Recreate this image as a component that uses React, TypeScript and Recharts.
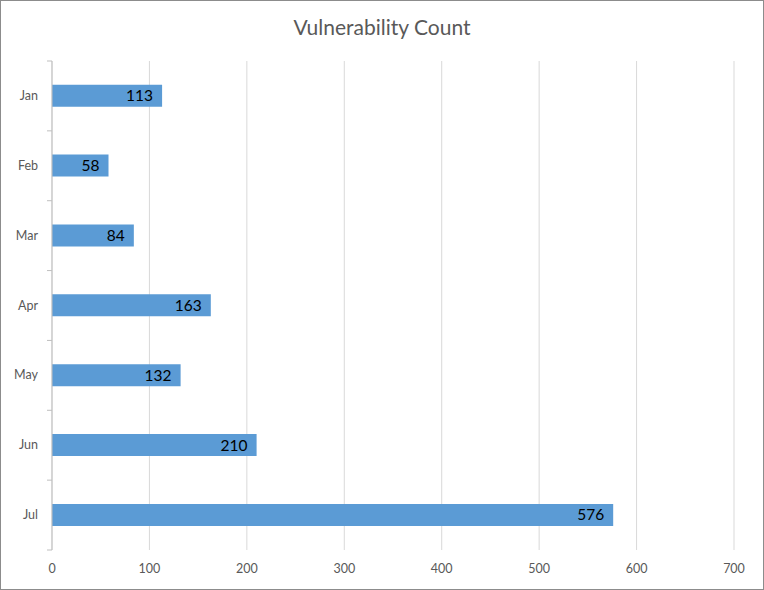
import React from 'react';
import { BarChart, Bar, XAxis, YAxis, CartesianGrid, LabelList } from 'recharts';

const months = ['Jan', 'Feb', 'Mar', 'Apr', 'May', 'Jun', 'Jul'];
const counts = [113, 58, 84, 163, 132, 210, 576];
const xTicks = [0, 100, 200, 300, 400, 500, 600, 700];

const data = months.map((month, i) => ({ month, count: counts[i] }));

const FONT = 'Lato, "Open Sans", sans-serif';
const PLOT_TOP = 61;
const PLOT_BOTTOM = 40;
const BAND = (590 - PLOT_TOP - PLOT_BOTTOM) / months.length;

// month label plus a tick mark on the boundary between categories
const MonthTick = (props: any) => {
  const { x, y, payload, index } = props;
  const last = index === months.length - 1;
  const ax = x + 8; // tick x sits 8px left of the axis line
  return (
    <g>
      <text x={ax - 14} y={y} dy={4} textAnchor="end" fill="#595959" fontSize={12.5} fontFamily={FONT}>
        {payload.value}
      </text>
      <line x1={ax - 5} x2={ax} y1={y - BAND / 2} y2={y - BAND / 2} stroke="#bfbfbf" />
      {last && <line x1={ax - 5} x2={ax} y1={y + BAND / 2} y2={y + BAND / 2} stroke="#bfbfbf" />}
    </g>
  );
};

export default function App() {
  return (
    <div style={{ position: 'fixed', top: 0, left: 0, width: 764, height: 590, boxSizing: 'border-box', border: '1px solid #8c8c8c', background: '#fff' }}>
      <div style={{ position: 'absolute', top: 13, left: 0, width: 762, textAlign: 'center', fontFamily: FONT, fontSize: 21, color: '#595959' }}>
        Vulnerability Count
      </div>
      <BarChart
        width={762}
        height={588}
        data={data}
        layout="vertical"
        barCategoryGap="34%"
        margin={{ top: PLOT_TOP - 1, right: 29, left: 0, bottom: 0 }}
        style={{ position: 'absolute', top: 0, left: 0 }}
      >
        <CartesianGrid horizontal={false} stroke="#d9d9d9" />
        <XAxis
          type="number"
          domain={[0, 700]}
          ticks={xTicks}
          axisLine={false}
          tickLine={false}
          height={PLOT_BOTTOM - 1}
          tick={{ fill: '#595959', fontSize: 12.5, fontFamily: FONT }}
          tickMargin={8}
        />
        <YAxis
          type="category"
          dataKey="month"
          width={51}
          axisLine={{ stroke: '#bfbfbf' }}
          tickLine={false}
          tick={<MonthTick />}
        />
        <Bar dataKey="count" fill="#5b9bd5" isAnimationActive={false}>
          <LabelList dataKey="count" position="insideRight" offset={9} fill="#000" fontSize={15.5} fontFamily={FONT} />
        </Bar>
      </BarChart>
    </div>
  );
}
